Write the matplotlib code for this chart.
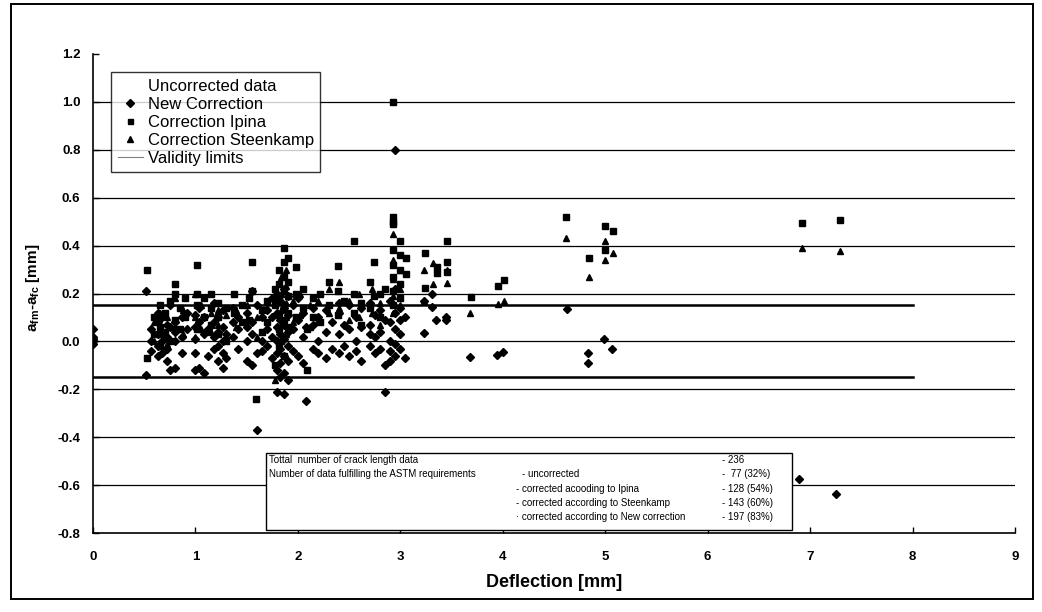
import matplotlib.pyplot as plt
from matplotlib.lines import Line2D
from matplotlib.patches import Rectangle

plt.rcParams['font.family'] = ['Liberation Sans', 'DejaVu Sans']
plt.rcParams['mathtext.fontset'] = 'custom'
plt.rcParams['mathtext.rm'] = 'Liberation Sans:bold'
plt.rcParams['mathtext.it'] = 'Liberation Sans:bold'
plt.rcParams['mathtext.bf'] = 'Liberation Sans:bold'

# ---------------------------------------------------------------------------
# Data (deflection [mm], a_fm - a_fc [mm])
# ---------------------------------------------------------------------------
new_x = [0, 0, 0, 0, 0,
         0.52, 0.52, 0.57, 0.57, 0.57,
         0.63, 0.63, 0.63, 0.63, 0.63, 0.67, 0.67, 0.67, 0.67,
         0.72, 0.72, 0.72, 0.72, 0.75, 0.75, 0.75, 0.8, 0.8, 0.8, 0.8,
         0.87, 0.87, 0.87, 0.92, 0.92,
         1.0, 1.0, 1.0, 1.0, 1.0, 1.03, 1.03, 1.03, 1.08, 1.08, 1.08, 1.12, 1.12,
         1.18, 1.18, 1.18, 1.18, 1.22, 1.22, 1.22, 1.22,
         1.27, 1.27, 1.27, 1.27, 1.27, 1.3, 1.3, 1.37, 1.37, 1.37, 1.42, 1.42, 1.42,
         1.5, 1.5, 1.5, 1.5, 1.55, 1.55, 1.55, 1.55, 1.6, 1.6, 1.6,
         1.65, 1.65, 1.65, 1.7, 1.7, 1.7, 1.75, 1.75, 1.75, 1.75,
         1.8, 1.8, 1.8, 1.8, 1.8, 1.8, 1.8, 1.83, 1.83, 1.83, 1.83, 1.83, 1.83,
         1.86, 1.86, 1.86, 1.86, 1.86, 1.86, 1.86, 1.9, 1.9, 1.9, 1.9, 1.9, 1.9,
         1.95, 1.95, 1.95, 2.0, 2.0, 2.0, 2.05, 2.05, 2.05, 2.08, 2.08,
         2.15, 2.15, 2.15, 2.2, 2.2, 2.2, 2.27, 2.27, 2.27, 2.33, 2.33,
         2.4, 2.4, 2.4, 2.4, 2.45, 2.45, 2.5, 2.5, 2.5, 2.57, 2.57, 2.57,
         2.62, 2.62, 2.62, 2.7, 2.7, 2.7, 2.7, 2.75, 2.75, 2.75, 2.8, 2.8, 2.8,
         2.85, 2.85, 2.85, 2.9, 2.9, 2.9, 2.9, 2.9,
         2.95, 2.95, 2.95, 2.95, 2.95, 2.95, 3.0, 3.0, 3.0, 3.0, 3.05, 3.05,
         3.23, 3.23, 3.31, 3.31, 3.35, 3.45, 3.45, 3.68, 3.94, 4.0, 4.63,
         4.83, 4.83, 4.99, 5.07, 6.89, 7.25]
new_y = [0.05, 0.02, 0.01, 0.0, -0.01,
         0.21, -0.14, 0.05, 0.0, -0.04,
         0.12, 0.08, 0.03, -0.02, -0.06, 0.1, 0.04, 0.0, -0.05,
         0.07, 0.02, -0.03, -0.08, -0.12, 0.15, 0.06, 0.08, 0.0, -0.11, 0.04,
         0.1, 0.02, -0.05, 0.12, 0.05,
         0.11, 0.06, 0.01, -0.05, -0.12, 0.08, -0.11, 0.14, -0.13, 0.03, 0.1, -0.06, 0.05,
         0.16, 0.08, 0.02, -0.03, 0.1, 0.04, -0.02, -0.08,
         0.06, 0.0, -0.05, -0.11, 0.13, -0.07, 0.03, 0.14, 0.08, 0.02, 0.1, 0.05, -0.03,
         0.12, 0.06, 0.0, -0.08, 0.21, 0.08, -0.1, 0.03, -0.37, 0.15, -0.05,
         0.1, 0.0, -0.04, 0.13, 0.05, -0.02, 0.18, 0.1, 0.02, -0.07,
         0.2, 0.12, 0.06, 0.0, -0.05, -0.12, -0.21, 0.17, 0.09, 0.03, -0.03, -0.09, -0.15,
         0.22, 0.14, 0.07, 0.01, -0.06, -0.13, -0.22, 0.19, 0.11, 0.04, -0.02, -0.08, -0.16,
         0.15, 0.05, -0.04, 0.18, 0.09, -0.06, 0.12, 0.02, -0.09, -0.25, 0.06,
         0.14, 0.07, -0.03, 0.1, 0.0, -0.05, 0.13, 0.04, -0.07, 0.08, -0.03,
         0.12, 0.03, -0.05, 0.16, 0.07, -0.02, 0.15, 0.05, -0.06, 0.1, 0.0, -0.04,
         0.14, 0.06, -0.08, 0.16, 0.07, -0.02, 0.03, 0.11, 0.02, -0.05, 0.13, 0.04, -0.03,
         -0.21, 0.09, -0.1, 0.17, 0.08, 0.0, -0.04, -0.08,
         0.8, 0.22, 0.12, 0.05, -0.01, -0.06, 0.14, 0.03, -0.03, 0.09, -0.07, 0.1,
         0.035, 0.17, 0.144, 0.2, 0.088, 0.088, 0.1, -0.067, -0.058, -0.045, 0.134,
         -0.05, -0.09, 0.01, -0.03, -0.573, -0.636]

ipina_x = [0, 0.53, 0.53, 0.6, 0.6, 0.65, 0.65, 0.65, 0.7, 0.7, 0.75, 0.75,
           0.8, 0.8, 0.8, 0.85, 0.85, 0.9, 0.9,
           1.02, 1.02, 1.02, 1.02, 1.08, 1.08, 1.15, 1.15, 1.15, 1.22, 1.22, 1.22,
           1.3, 1.3, 1.38, 1.38, 1.45, 1.45, 1.52, 1.52, 1.55, 1.55, 1.59,
           1.65, 1.65, 1.7, 1.7, 1.78, 1.78, 1.78,
           1.82, 1.82, 1.82, 1.82, 1.82, 1.82,
           1.86, 1.86, 1.86, 1.86, 1.86, 1.86, 1.86, 1.86,
           1.9, 1.9, 1.9, 1.9, 1.9, 1.98, 1.98, 1.98, 2.05, 2.05, 2.09, 2.09,
           2.15, 2.15, 2.22, 2.22, 2.3, 2.3, 2.39, 2.39, 2.39, 2.45,
           2.55, 2.55, 2.55, 2.62, 2.62, 2.7, 2.7, 2.74, 2.74, 2.8, 2.8, 2.85,
           2.93, 2.93, 2.93, 2.93, 2.93, 2.93, 2.93, 2.93, 2.93,
           3.0, 3.0, 3.0, 3.0, 3.0, 3.06, 3.06, 3.24, 3.24, 3.36, 3.36,
           3.46, 3.46, 3.46, 3.69, 3.95, 4.01, 4.62, 4.84, 5.0, 5.0, 5.08,
           6.92, 7.29]
ipina_y = [0.0, 0.30, -0.07, 0.1, 0.03, 0.15, 0.06, -0.02, 0.12, 0.04, 0.17, 0.0,
           0.24, 0.09, 0.2, 0.14, 0.05, 0.18, 0.1,
           0.32, 0.15, 0.2, 0.05, 0.18, 0.1, 0.14, 0.07, 0.2, 0.16, 0.1, 0.03,
           0.14, 0.0, 0.12, 0.2, 0.15, 0.08, 0.18, 0.09, 0.33, 0.21, -0.24,
           0.13, 0.04, 0.17, 0.08, -0.10, 0.22, 0.15,
           0.3, 0.24, 0.18, 0.11, 0.05, -0.02,
           0.39, 0.33, 0.27, 0.21, 0.15, 0.09, 0.02, -0.06,
           0.35, 0.25, 0.19, 0.12, 0.06, 0.31, 0.2, 0.1, 0.22, 0.14, -0.12, 0.05,
           0.18, 0.1, 0.2, 0.08, 0.15, 0.25, 0.315, 0.21, 0.11, 0.17,
           0.42, 0.2, 0.12, 0.16, 0.07, 0.25, 0.14, 0.33, 0.19, 0.2, 0.1, 0.22,
           1.0, 0.52, 0.5, 0.49, 0.38, 0.32, 0.27, 0.21, 0.15,
           0.42, 0.36, 0.3, 0.24, 0.18, 0.35, 0.28, 0.37, 0.223, 0.31, 0.285,
           0.42, 0.33, 0.29, 0.184, 0.23, 0.255, 0.52, 0.35, 0.48, 0.38, 0.46,
           0.494, 0.506]

steen_x = [0.6, 0.6, 0.65, 0.65, 0.72, 0.72, 0.8, 0.8, 0.88, 0.88,
           1.0, 1.0, 1.0, 1.05, 1.05, 1.15, 1.15, 1.22, 1.22, 1.3, 1.3,
           1.4, 1.4, 1.5, 1.5, 1.6, 1.6, 1.7, 1.7, 1.78, 1.78,
           1.84, 1.84, 1.84, 1.84, 1.84, 1.88, 1.88, 1.88, 1.88, 1.88,
           1.95, 1.95, 2.02, 2.02, 2.12, 2.12, 2.2, 2.2, 2.3, 2.3, 2.4, 2.4,
           2.5, 2.5, 2.6, 2.6, 2.72, 2.72, 2.8, 2.8,
           2.93, 2.93, 2.93, 2.93, 2.93, 3.0, 3.0, 3.0,
           3.23, 3.23, 3.32, 3.32, 3.46, 3.46, 3.68, 3.95, 4.01,
           4.62, 4.84, 5.0, 5.0, 5.08, 6.92, 7.29]
steen_y = [0.08, 0.0, 0.12, 0.03, 0.1, -0.01, 0.18, 0.06, 0.13, 0.03,
           0.2, 0.1, 0.02, 0.15, 0.05, 0.12, 0.04, 0.13, 0.07, 0.11, 0.02,
           0.13, 0.06, 0.15, 0.07, 0.1, 0.02, 0.14, 0.06, -0.16, 0.18,
           0.27, 0.2, 0.13, 0.07, 0.0, 0.3, 0.23, 0.16, 0.1, 0.03,
           0.17, 0.08, 0.2, 0.11, 0.15, 0.06, 0.17, 0.09, 0.22, 0.12, 0.25, 0.14,
           0.17, 0.09, 0.2, 0.1, 0.22, 0.12, 0.16, 0.07,
           0.45, 0.34, 0.26, 0.19, 0.12, 0.3, 0.22, 0.15,
           0.30, 0.17, 0.238, 0.326, 0.243, 0.3, 0.117, 0.155, 0.17,
           0.43, 0.27, 0.42, 0.34, 0.37, 0.39, 0.378]

grid_levels = [-0.6, -0.4, -0.2, 0.0, 0.2, 0.4, 0.6, 0.8, 1.0]
validity = [0.15, -0.15]
validity_x = [0, 8]

summary_left = ['Tottal  number of crack length data',
                'Number of data fulfilling the ASTM requirements']
summary_mid = ['- uncorrected',
               '- corrected acooding to Ipina',
               '- corrected according to Steenkamp',
               '\u00b7 corrected according to New correction']
summary_counts = ['- 236', '-  77 (32%)', '- 128 (54%)', '- 143 (60%)', '- 197 (83%)']

W, H = 1042, 612


def fx(px):
    return px / W


def fy(py):
    return 1 - py / H


fig = plt.figure(figsize=(10.42, 6.12), dpi=100)
ax = fig.add_axes([fx(93), fy(533), fx(1015) - fx(93), fy(54) - fy(533)])

# horizontal gridlines and validity limits
for g in grid_levels:
    ax.plot([0, 9], [g, g], color='black', lw=0.9, zorder=1)
for v in validity:
    ax.plot(validity_x, [v, v], color='black', lw=1.8, zorder=1)

ax.plot(new_x, new_y, 'D', color='black', ms=3.8, zorder=3)
ax.plot(ipina_x, ipina_y, 's', color='black', ms=3.8, zorder=3)
ax.plot(steen_x, steen_y, '^', color='black', ms=4.2, zorder=3)

ax.set_xlim(0, 9)
ax.set_ylim(-0.8, 1.2)
ax.set_xticks(range(10))
ax.set_yticks([-0.8, -0.6, -0.4, -0.2, 0.0, 0.2, 0.4, 0.6, 0.8, 1.0, 1.2])
ax.set_yticklabels(['%.1f' % t for t in ax.get_yticks()])
ax.tick_params(axis='both', direction='in', length=4, width=1, labelsize=9.5)
ax.tick_params(axis='x', pad=13)
ax.tick_params(axis='y', pad=9)
for lab in ax.get_xticklabels() + ax.get_yticklabels():
    lab.set_fontweight('bold')
ax.spines['top'].set_visible(False)
ax.spines['right'].set_visible(False)
ax.spines['left'].set_linewidth(1.2)
ax.spines['bottom'].set_linewidth(1.2)

ax.set_xlabel('Deflection [mm]', fontsize=13, fontweight='bold', labelpad=8)
fig.text(fx(33), fy(288), r'$\mathbf{a_{fm}}$-$\mathbf{a_{fc}}$ [mm]', rotation=90,
         fontsize=11, fontweight='bold', ha='center', va='center')

handles = [Line2D([], [], linestyle='none'),
           Line2D([], [], marker='D', linestyle='none', color='black', ms=3.6),
           Line2D([], [], marker='s', linestyle='none', color='black', ms=3.6),
           Line2D([], [], marker='^', linestyle='none', color='black', ms=4.0),
           Line2D([], [], color='gray', lw=0.8)]
labels = ['Uncorrected data', 'New Correction', 'Correction Ipina',
          'Correction Steenkamp', 'Validity limits']
leg = ax.legend(handles, labels, loc='upper left',
                bbox_to_anchor=((111 - 93) / 922, (533 - 72) / 479),
                borderaxespad=0, frameon=True, fancybox=False, fontsize=12,
                handlelength=1.5, handletextpad=0.3, labelspacing=0.18,
                borderpad=0.4)
leg.get_frame().set_edgecolor('black')
leg.get_frame().set_linewidth(1.0)
leg.set_zorder(5)

# summary box
fig.patches.append(Rectangle((fx(266), fy(530)), fx(792) - fx(266), fy(453) - fy(530),
                             transform=fig.transFigure, facecolor='white',
                             edgecolor='black', lw=1.0, zorder=6))
rows_y = [460, 474, 489, 503, 517]
for i, t in enumerate(summary_left):
    fig.text(fx(269), fy(rows_y[i]), t, fontsize=7, va='center', zorder=7)
for i, t in enumerate(summary_mid):
    fig.text(fx(522) if i == 0 else fx(516), fy(rows_y[i + 1]), t,
             fontsize=7, va='center', zorder=7)
for i, t in enumerate(summary_counts):
    fig.text(fx(722), fy(rows_y[i]), t, fontsize=7, va='center', zorder=7)

# scan frame around the whole chart
fig.patches.append(Rectangle((fx(11), fy(599)), fx(1033) - fx(11), fy(4) - fy(599),
                             transform=fig.transFigure, facecolor='none',
                             edgecolor='black', lw=1.4, zorder=0))

fig.savefig('out.png', dpi=100)
